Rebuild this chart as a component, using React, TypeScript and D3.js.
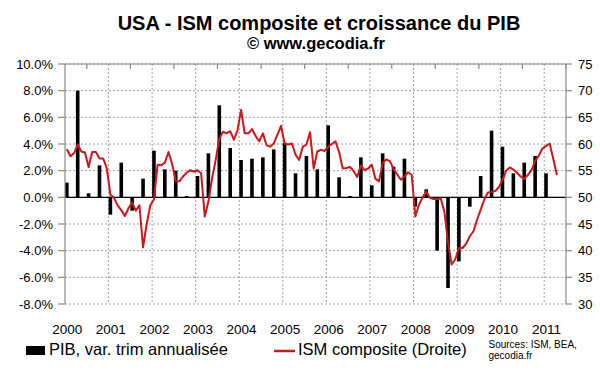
import React from "react";
import * as d3 from "d3";

// Quarterly GDP growth (annualised q/q, %), 2000Q1 .. 2011Q1
const gdpQuarters: string[] = [
  "2000Q1","2000Q2","2000Q3","2000Q4","2001Q1","2001Q2","2001Q3","2001Q4",
  "2002Q1","2002Q2","2002Q3","2002Q4","2003Q1","2003Q2","2003Q3","2003Q4",
  "2004Q1","2004Q2","2004Q3","2004Q4","2005Q1","2005Q2","2005Q3","2005Q4",
  "2006Q1","2006Q2","2006Q3","2006Q4","2007Q1","2007Q2","2007Q3","2007Q4",
  "2008Q1","2008Q2","2008Q3","2008Q4","2009Q1","2009Q2","2009Q3","2009Q4",
  "2010Q1","2010Q2","2010Q3","2010Q4","2011Q1",
];
const gdpValues: number[] = [
  1.1, 8.0, 0.3, 2.4, -1.3, 2.6, -1.0, 1.4,
  3.5, 2.1, 2.0, 0.1, 1.6, 3.3, 6.9, 3.7,
  2.8, 2.9, 3.0, 3.6, 4.1, 1.8, 3.1, 2.1,
  5.4, 1.5, 0.1, 3.0, 0.9, 3.3, 2.3, 2.9,
  -0.7, 0.6, -4.0, -6.8, -4.8, -0.7, 1.6, 5.0,
  3.8, 1.8, 2.6, 3.1, 1.8,
];

// Monthly ISM composite, Jan 2000 .. Apr 2011
const ismStart = "2000-01";
const ismValues: number[] = [
  59.0, 57.7, 58.3, 59.9, 58.6, 58.4, 55.7, 58.5, 58.5, 57.3, 57.3, 55.5, // 2000
  50.5, 49.9, 48.5, 47.6, 46.5, 48.0, 49.0, 47.5, 48.5, 40.6, 45.0, 48.5, // 2001
  49.6, 56.1, 56.0, 56.5, 58.5, 56.3, 53.0, 53.0, 53.9, 54.6, 55.1, 54.8, // 2002
  55.1, 54.5, 46.4, 49.2, 53.5, 57.0, 61.0, 62.3, 62.0, 62.4, 60.8, 62.5, // 2003
  66.4, 62.0, 62.0, 62.8, 61.5, 60.5, 62.0, 59.8, 59.5, 60.1, 61.7, 63.4, // 2004
  60.1, 59.9, 60.1, 58.0, 57.0, 59.5, 59.9, 62.2, 55.4, 58.6, 58.9, 58.7, // 2005
  59.5, 60.0, 60.5, 58.5, 55.4, 55.5, 55.7, 54.9, 53.8, 56.0, 55.1, 55.4, // 2006
  56.1, 53.5, 53.0, 56.5, 57.1, 56.8, 55.3, 54.3, 53.3, 53.9, 54.7, 54.2, // 2007
  46.4, 48.6, 50.0, 51.1, 49.9, 49.7, 49.7, 49.8, 47.3, 41.5, 37.4, 38.4, // 2008
  40.5, 40.5, 41.3, 42.7, 43.6, 45.8, 47.7, 49.6, 50.9, 51.0, 51.2, 51.9, // 2009
  53.2, 55.0, 55.6, 55.2, 54.6, 53.9, 53.4, 54.2, 55.1, 56.8, 57.8, 59.2, // 2010
  59.6, 60.1, 57.2, 54.2, // 2011
];

const yearLabels: string[] = ["2000","2001","2002","2003","2004","2005","2006","2007","2008","2009","2010","2011"];
const leftTicks: number[] = [-8, -6, -4, -2, 0, 2, 4, 6, 8, 10];
const rightTicks: number[] = [30, 35, 40, 45, 50, 55, 60, 65, 70, 75];
const monthCount = 138; // Jan 2000 .. Jun 2011 category slots

const FONT = "'Liberation Sans', Arial, sans-serif";

export default function App() {
  const L = 65, R = 566, T = 64, B = 304;
  const x = d3.scaleLinear().domain([0, monthCount]).range([L, R]);
  const yL = d3.scaleLinear().domain([-8, 10]).range([B, T]);
  const yR = d3.scaleLinear().domain([30, 75]).range([B, T]);
  const startYear = +ismStart.slice(0, 4);

  const quarterIndex = (q: string) => (+q.slice(0, 4) - startYear) * 12 + (+q.slice(5) - 1) * 3;

  const line = d3
    .line<number>()
    .x((_, i) => x(i + 0.5))
    .y((d) => yR(d));

  const axisColor = "#8a8a8a";
  const gridColor = "#a0a0a0";
  const barW = 3.6;

  return (
    <svg
      width={600}
      height={372}
      style={{ position: "absolute", left: 0, top: 0, background: "#fff" }}
      fontFamily={FONT}
    >
      <rect x={0} y={0} width={600} height={372} fill="#fff" />
      {/* titles */}
      <text x={319} y={30} textAnchor="middle" fontSize={20} fontWeight="bold" fill="#000">
        USA - ISM composite et croissance du PIB
      </text>
      <text x={316} y={49} textAnchor="middle" fontSize={16.5} fontWeight="bold" fill="#000">
        © www.gecodia.fr
      </text>

      {/* horizontal gridlines */}
      {leftTicks.map((t) => (
        <line key={"hg" + t} x1={L} x2={R} y1={yL(t)} y2={yL(t)} stroke={gridColor} strokeWidth={1} strokeDasharray="2,2" />
      ))}
      {/* vertical gridlines at year starts */}
      {yearLabels.slice(1).map((_, i) => (
        <line key={"vg" + i} x1={x((i + 1) * 12)} x2={x((i + 1) * 12)} y1={T} y2={B} stroke={gridColor} strokeWidth={1} strokeDasharray="2,2" />
      ))}

      {/* bars */}
      {gdpValues.map((v, i) => {
        const cx = x(quarterIndex(gdpQuarters[i]) + 0.5);
        const y0 = yL(0);
        const y1 = yL(v);
        return (
          <rect key={"b" + i} x={cx - barW / 2} y={Math.min(y0, y1)} width={barW} height={Math.abs(y1 - y0)} fill="#000" />
        );
      })}

      {/* zero line */}
      <line x1={L} x2={R} y1={yL(0)} y2={yL(0)} stroke="#000" strokeWidth={1.2} />

      {/* ISM line */}
      <path d={line(ismValues) || ""} fill="none" stroke="#cc1818" strokeWidth={2} strokeLinejoin="round" />

      {/* axes frame */}
      <line x1={L} x2={L} y1={T} y2={B} stroke={axisColor} strokeWidth={1.2} />
      <line x1={R} x2={R} y1={T} y2={B} stroke={axisColor} strokeWidth={1.2} />
      <line x1={L} x2={R} y1={T} y2={T} stroke={axisColor} strokeWidth={1.2} />
      {yearLabels.map((_, i) => (
        <line key={"tt" + i} x1={x(i * 12 + 6)} x2={x(i * 12 + 6)} y1={T} y2={T + 5} stroke={axisColor} strokeWidth={1.2} />
      ))}

      {/* left axis */}
      {leftTicks.map((t) => (
        <g key={"lt" + t}>
          <line x1={L - 7} x2={L} y1={yL(t)} y2={yL(t)} stroke={axisColor} strokeWidth={1.2} />
          <text x={53} y={yL(t)} dy="0.36em" textAnchor="end" fontSize={13} fill="#000">
            {t.toFixed(1) + "%"}
          </text>
        </g>
      ))}
      {/* right axis */}
      {rightTicks.map((t) => (
        <g key={"rt" + t}>
          <line x1={R} x2={R + 6} y1={yR(t)} y2={yR(t)} stroke={axisColor} strokeWidth={1.2} />
          <text x={578} y={yR(t)} dy="0.36em" textAnchor="start" fontSize={13} fill="#000">
            {t}
          </text>
        </g>
      ))}

      {/* year labels */}
      {yearLabels.map((yl, i) => (
        <text key={"yl" + yl} x={x(i * 12 + 0.5) + 0.5} y={334} textAnchor="middle" fontSize={13.5} fill="#000">
          {yl}
        </text>
      ))}

      {/* legend */}
      <rect x={26} y={346} width={19} height={9} fill="#000" />
      <text x={49} y={355} fontSize={16.5} fill="#000">PIB, var. trim annualisée</text>
      <line x1={274} x2={295} y1={351} y2={351} stroke="#cc1818" strokeWidth={2.5} />
      <text x={298} y={355} fontSize={16.5} fill="#000">ISM composite (Droite)</text>
      <text x={488.5} y={348} fontSize={10} fill="#000">Sources: ISM, BEA,</text>
      <text x={488.5} y={358.5} fontSize={10} fill="#000">gecodia.fr</text>
    </svg>
  );
}
